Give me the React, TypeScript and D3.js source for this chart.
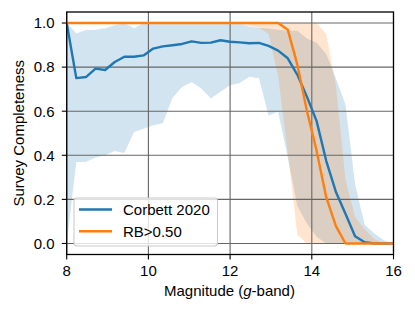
import React from "react";
import * as d3 from "d3";

const MAGS = [8, 8.235, 8.471, 8.706, 8.941, 9.176, 9.412, 9.647, 9.882, 10.118, 10.353, 10.588, 10.824, 11.059, 11.294, 11.529, 11.765, 12.0, 12.235, 12.471, 12.706, 12.941, 13.176, 13.412, 13.647, 13.882, 14.118, 14.353, 14.588, 14.824, 15.059, 15.294, 15.529, 15.765, 16.0];

const corbettMean = [1.0, 0.75, 0.755, 0.793, 0.787, 0.823, 0.847, 0.847, 0.853, 0.884, 0.894, 0.899, 0.905, 0.917, 0.91, 0.911, 0.922, 0.915, 0.912, 0.908, 0.91, 0.896, 0.875, 0.84, 0.765, 0.665, 0.555, 0.375, 0.235, 0.135, 0.033, 0.006, 0, 0, 0];
const corbettUpper = [1.0, 0.953, 0.968, 0.97, 0.976, 0.99, 1.0, 0.976, 1.0, 1.0, 1.0, 1.0, 1.0, 1.0, 1.0, 1.0, 1.0, 1.0, 1.0, 0.983, 0.978, 0.975, 0.97, 0.965, 0.965, 0.93, 0.91, 0.86, 0.75, 0.63, 0.27, 0.085, 0.045, 0.015, 0];
const corbettLower = [0.0, 0.37, 0.37, 0.39, 0.4, 0.42, 0.41, 0.506, 0.52, 0.536, 0.545, 0.66, 0.71, 0.733, 0.703, 0.658, 0.688, 0.718, 0.728, 0.756, 0.749, 0.58, 0.597, 0.39, 0.17, 0.09, 0.03, 0, 0, 0, 0, 0, 0, 0, 0];

const rbMean = [1, 1, 1, 1, 1, 1, 1, 1, 1, 1, 1, 1, 1, 1, 1, 1, 1, 1, 1, 1, 1, 1, 1, 0.97, 0.81, 0.6, 0.42, 0.21, 0.08, 0, 0, 0, 0, 0, 0];
const rbUpper = [1, 1, 1, 1, 1, 1, 1, 1, 1, 1, 1, 1, 1, 1, 1, 1, 1, 1, 1, 1, 1, 1, 1, 1, 1, 1, 1, 0.95, 0.72, 0.29, 0.12, 0.065, 0.02, 0, 0];
const rbLower = [1, 1, 1, 1, 1, 1, 1, 1, 1, 1, 1, 1, 1, 1, 1, 1, 1, 1, 1, 0.985, 0.98, 0.95, 0.76, 0.41, 0.04, 0, 0, 0, 0, 0, 0, 0, 0, 0, 0];

const xTicks = [8, 10, 12, 14, 16];
const yTicks = [0.0, 0.2, 0.4, 0.6, 0.8, 1.0];
const seriesNames = ["Corbett 2020", "RB>0.50"];

const BLUE = "#1f77b4";
const ORANGE = "#ff7f0e";
const FONT = "'Liberation Sans', Arial, Helvetica, sans-serif";

export default function App() {
  const W = 415, H = 314;
  const L = 66.7, R = 393.5, T = 12, B = 254.5;
  const x = d3.scaleLinear().domain([8, 16]).range([L, R]);
  const y = d3.scaleLinear().domain([-0.05, 1.05]).range([B, T]);

  const idx = MAGS.map((_, i) => i);
  const area = (lo: number[], hi: number[]) =>
    d3.area<number>().x((i) => x(MAGS[i])).y0((i) => y(lo[i])).y1((i) => y(hi[i]))(idx) || "";
  const line = (v: number[]) =>
    d3.line<number>().x((i) => x(MAGS[i])).y((i) => y(v[i]))(idx) || "";

  const gridColor = "#666666";

  return (
    <svg width={W} height={H} style={{ position: "absolute", left: 0, top: 0, background: "#fff" }} fontFamily={FONT}>
      <defs>
        <clipPath id="plot">
          <rect x={L} y={T} width={R - L} height={B - T} />
        </clipPath>
      </defs>
      <rect x={0} y={0} width={W} height={H} fill="#fff" />
      <g clipPath="url(#plot)">
        <path d={area(corbettLower, corbettUpper)} fill={BLUE} fillOpacity={0.2} stroke="none" />
        <path d={area(rbLower, rbUpper)} fill={ORANGE} fillOpacity={0.2} stroke="none" />
        {xTicks.map((t) => (
          <line key={"gx" + t} x1={x(t)} x2={x(t)} y1={T} y2={B} stroke={gridColor} strokeWidth={1.1} />
        ))}
        {yTicks.map((t) => (
          <line key={"gy" + t} x1={L} x2={R} y1={y(t)} y2={y(t)} stroke={gridColor} strokeWidth={1.1} />
        ))}
        <path d={line(corbettMean)} fill="none" stroke={BLUE} strokeWidth={2.4} strokeLinejoin="round" />
        <path d={line(rbMean)} fill="none" stroke={ORANGE} strokeWidth={2.4} strokeLinejoin="round" />
      </g>
      <rect x={L} y={T} width={R - L} height={B - T} fill="none" stroke="#000" strokeWidth={1.3} />
      {xTicks.map((t) => (
        <g key={"xt" + t}>
          <line x1={x(t)} x2={x(t)} y1={B} y2={B + 4.9} stroke="#000" strokeWidth={1.1} />
          <text x={x(t)} y={275.5} textAnchor="middle" fontSize={15} fill="#000">{t}</text>
        </g>
      ))}
      {yTicks.map((t) => (
        <g key={"yt" + t}>
          <line x1={L - 4.9} x2={L} y1={y(t)} y2={y(t)} stroke="#000" strokeWidth={1.1} />
          <text x={54.5} y={y(t) + 5.3} textAnchor="end" fontSize={15} fill="#000">{t.toFixed(1)}</text>
        </g>
      ))}
      <text x={229.5} y={296} textAnchor="middle" fontSize={15} fill="#000">
        Magnitude (<tspan fontStyle="italic">g</tspan>-band)
      </text>
      <text transform={`translate(23.5,${(T + B) / 2}) rotate(-90)`} textAnchor="middle" fontSize={15} fill="#000">
        Survey Completeness
      </text>
      <g>
        <rect x={74} y={198} width={143.5} height={48} rx={3} fill="#fff" fillOpacity={0.8} stroke="#cccccc" strokeWidth={1.1} />
        {[BLUE, ORANGE].map((c, i) => (
          <g key={"lg" + i}>
            <line x1={79} x2={112} y1={209.5 + i * 21.7} y2={209.5 + i * 21.7} stroke={c} strokeWidth={2.4} />
            <text x={123} y={209.5 + i * 21.7 + 5.3} fontSize={15} fill="#000">{seriesNames[i]}</text>
          </g>
        ))}
      </g>
    </svg>
  );
}
